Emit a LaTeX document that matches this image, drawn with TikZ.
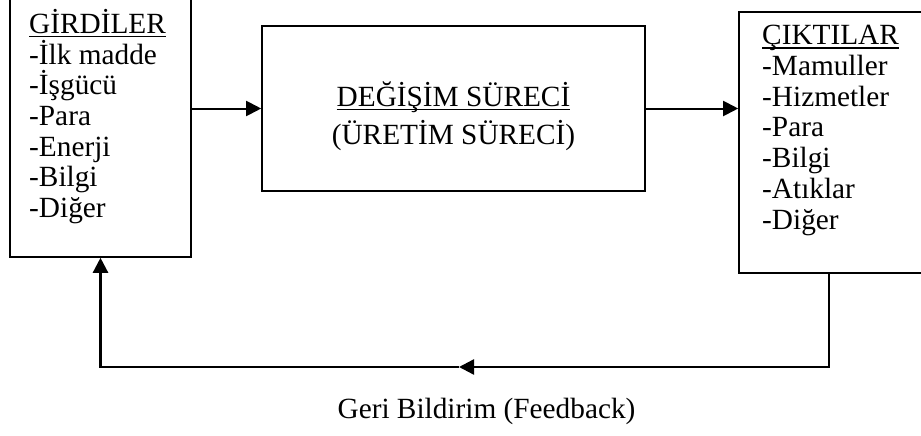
\documentclass[tikz,border=0pt]{standalone}
\usepackage{fontspec}
\setmainfont{Liberation Serif}
\usetikzlibrary{arrows.meta,positioning}

% underline at a fixed depth
\newsavebox{\hdbox}
\newcommand{\hdline}[1]{\sbox{\hdbox}{#1}\rlap{\rule[-3.8pt]{\wd\hdbox}{1.4pt}}\usebox{\hdbox}}

\begin{document}
\begin{tikzpicture}[
    x=1pt, y=-1pt,
    box/.style={rectangle, draw, line width=1.6pt, inner sep=0pt},
    txt/.style={inner sep=0pt, font=\fontsize{29.3}{30.7}\selectfont},
    arrow/.style={-{Triangle[length=15pt,width=15pt]}, line width=2pt},
    feedback/.style={arrow, line width=2.4pt}
]
\useasboundingbox (0,0) rectangle (921,436);
\clip (0,0) rectangle (921,436);

% Boxes
\node[box, minimum width=181pt, minimum height=263pt] (inputs) at (100.5,125.5) {};
\node[box, minimum width=383pt, minimum height=165pt] (process) at (453.5,108.5) {};
\node[box, minimum width=186pt, minimum height=261pt] (outputs) at (832,142.5) {};

% Texts (base = last line)
\node[txt, align=left, anchor=base west] (inputs_text) at (29,217.5)
    {\hdline{GİRDİLER}\\-İlk madde\\-İşgücü\\-Para\\-Enerji\\-Bilgi\\-Diğer};
\node[txt, align=center, anchor=base] (process_text) at (453.5,144)
    {\hdline{DEĞİŞİM SÜRECİ}\\[7pt](ÜRETİM SÜRECİ)};
\node[txt, align=left, anchor=base west] (outputs_text) at (762,229)
    {\hdline{ÇIKTILAR}\\-Mamuller\\-Hizmetler\\-Para\\-Bilgi\\-Atıklar\\-Diğer};
\node[txt, anchor=base] (feedback_label) at (486.5,418) {Geri Bildirim (Feedback)};

% Connections
\draw[arrow] (inputs.east |- process.west) -- (process.west);
\draw[arrow] (process.east) -- (process.east -| outputs.west);

% Feedback loop
\coordinate (fb_mid) at (459,367);
\draw[feedback] ([xshift=-3pt]outputs.south) |- (fb_mid);
\draw[feedback] (fb_mid) -| (inputs.south);

\end{tikzpicture}
\end{document}
